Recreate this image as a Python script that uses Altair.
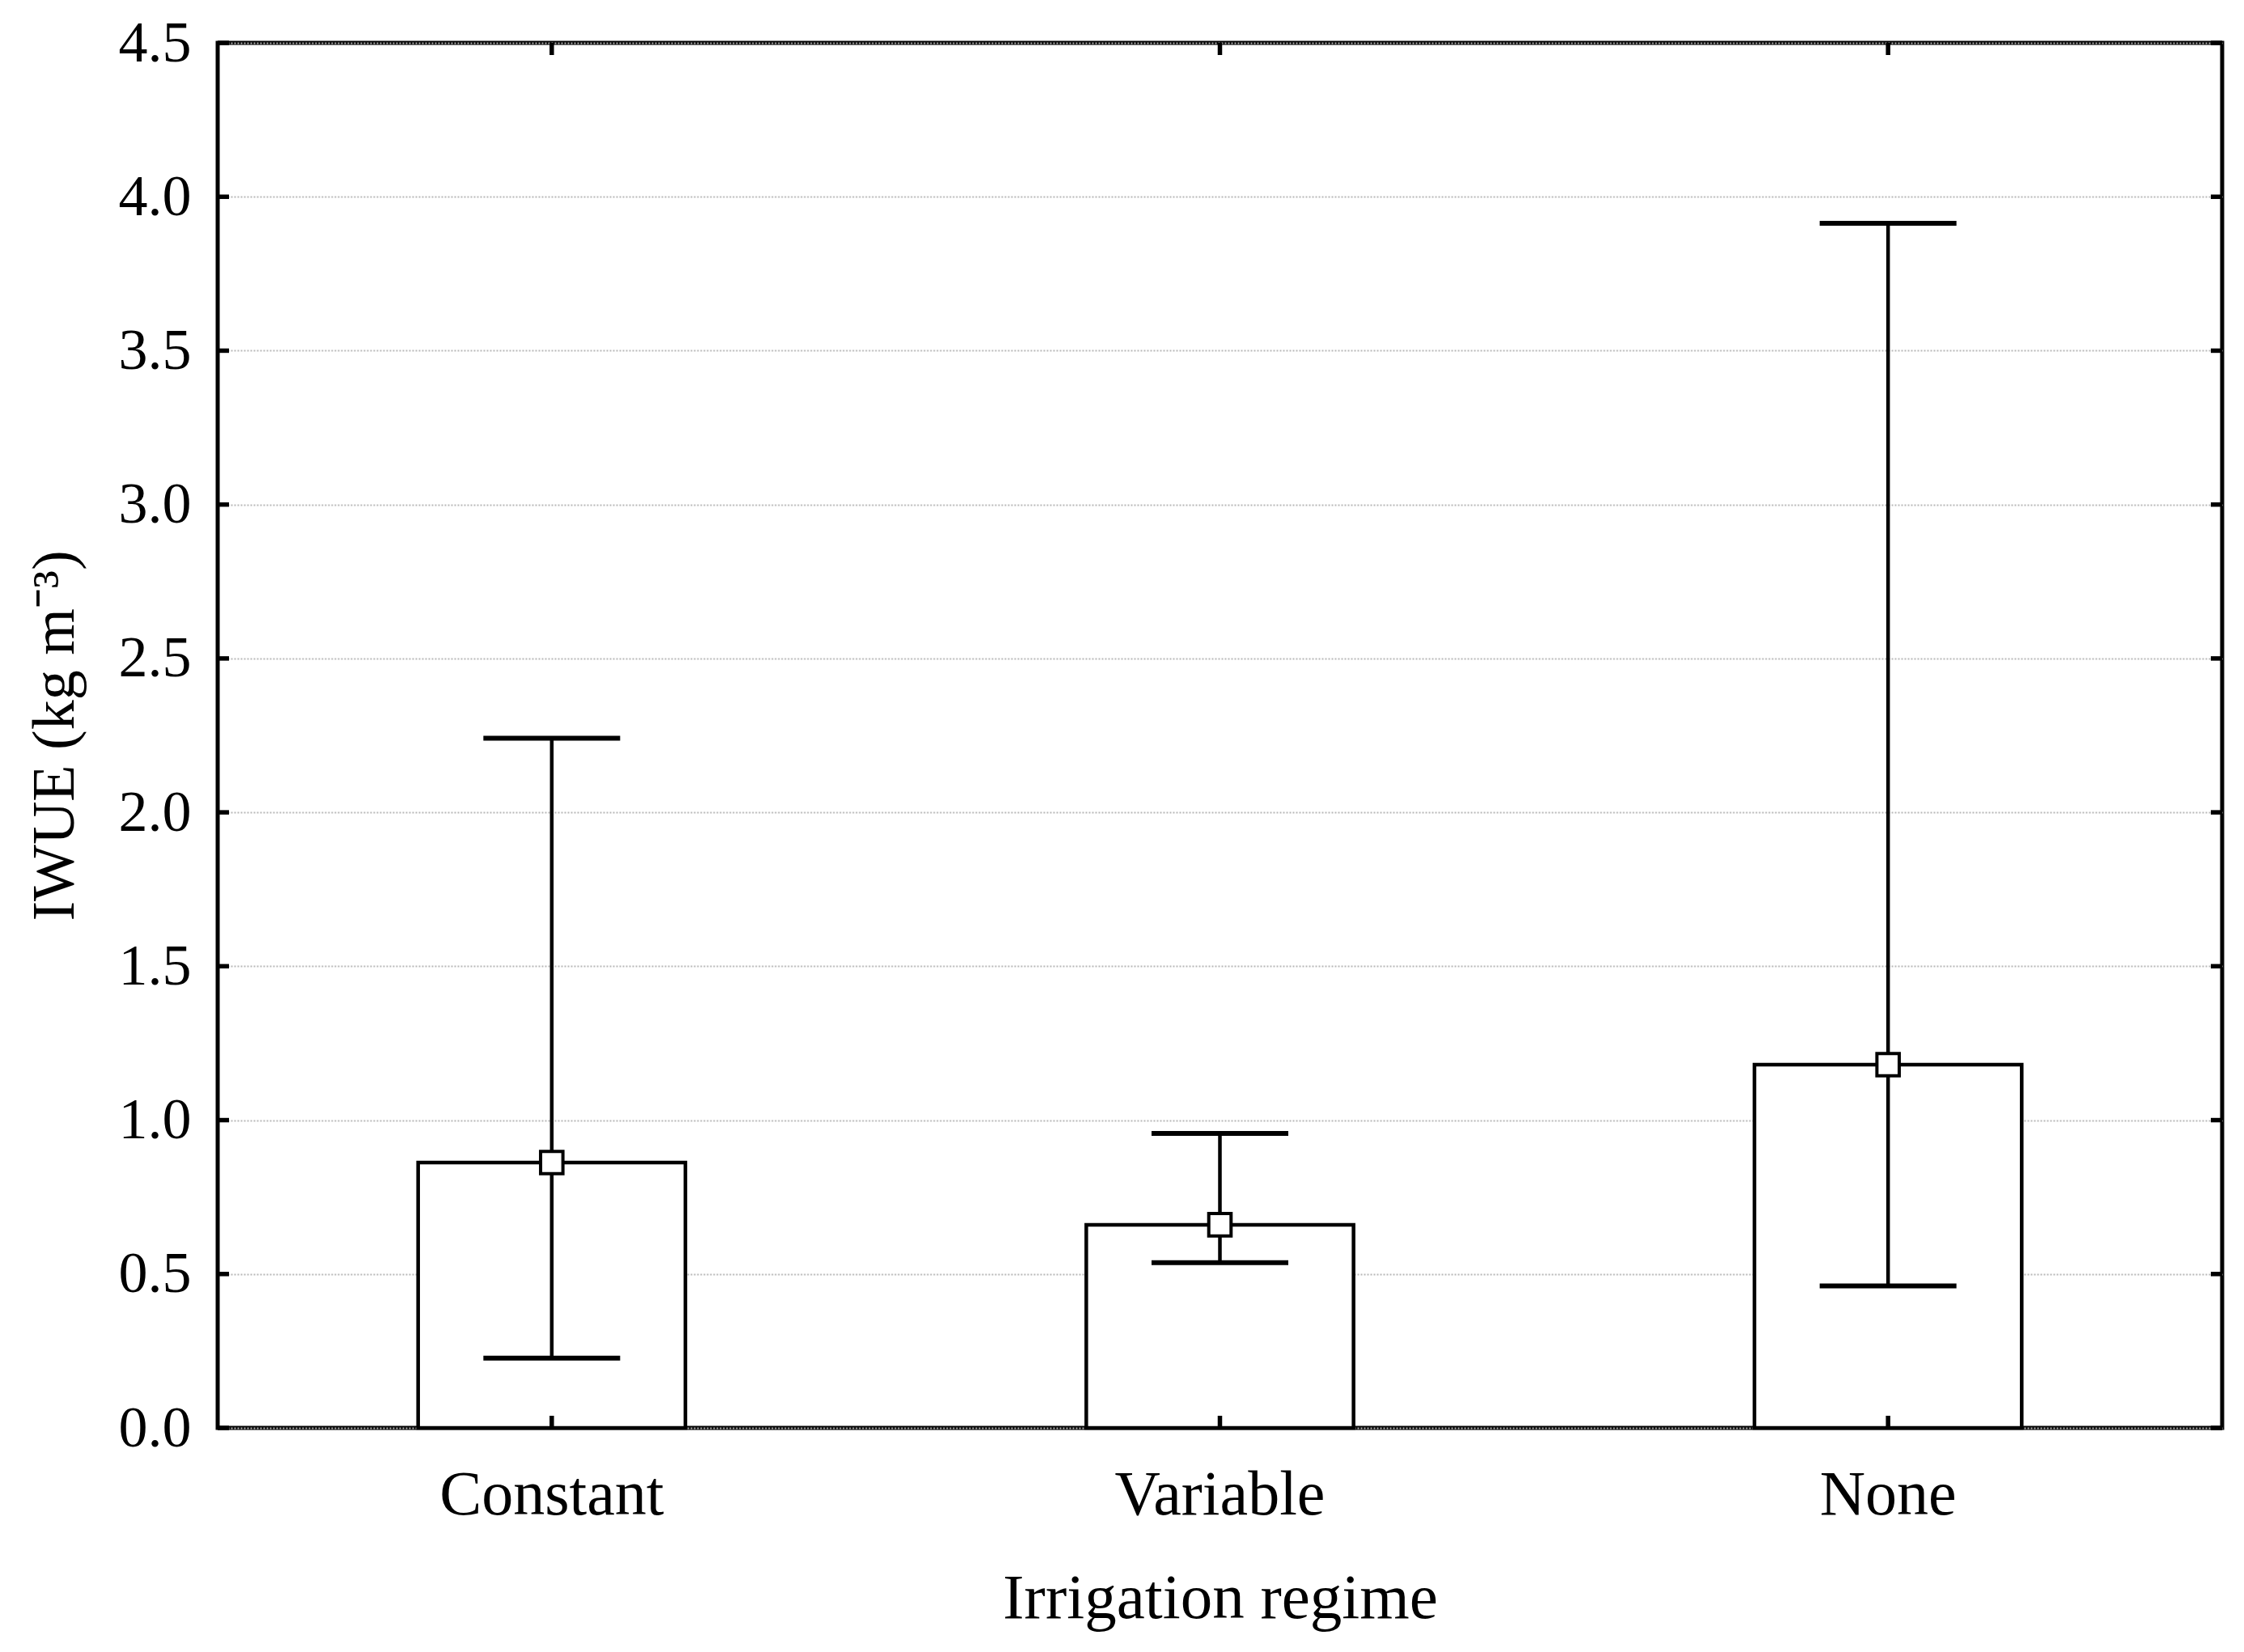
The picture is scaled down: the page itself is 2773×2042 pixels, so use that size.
import altair as alt
import pandas as pd

# ---- data ----
regimes = ["Constant", "Variable", "None"]
means = [0.862, 0.660, 1.180]
lows = [0.227, 0.537, 0.461]
highs = [2.241, 0.957, 3.914]
y_ticks = [0.0, 0.5, 1.0, 1.5, 2.0, 2.5, 3.0, 3.5, 4.0, 4.5]

W, H = 2477, 1712
FONT = "Liberation Serif"

df = pd.DataFrame({"regime": regimes, "mean": means, "low": lows, "high": highs})
tick_df = pd.DataFrame({"v": y_ticks})

yscale = alt.Scale(domain=[0, 4.5], nice=False, zero=True)
xscale = alt.Scale(domain=regimes, paddingInner=0.6, paddingOuter=0.3)

x_axis = alt.Axis(
    title="Irrigation regime", labelAngle=0, domain=False, ticks=False, tickSize=0,
    grid=False, labelFont=FONT, labelFontSize=78, labelColor="black", labelLimit=0,
    labelPadding=44, titleFont=FONT, titleFontSize=79, titleFontWeight="normal",
    titleColor="black", titlePadding=50,
)
y_axis = alt.Axis(
    title="IWUE (kg m⁻³)", values=y_ticks, format=".1f", domain=False, ticks=False,
    tickSize=0, grid=True, gridColor="#b8b8b8", gridDash=[2, 2], gridWidth=2,
    labelFont=FONT, labelFontSize=72, labelColor="black", labelPadding=33,
    labelLimit=0, titleFont=FONT, titleFontSize=74, titleFontWeight="normal",
    titleColor="black", titlePadding=40,
)


def X():
    return alt.X("regime:N", scale=xscale, axis=x_axis, sort=regimes)


def Y(field):
    return alt.Y(field, scale=yscale, axis=y_axis)


base = alt.Chart(df)

bars = base.mark_bar(fill="white", stroke="black", strokeWidth=4.5).encode(
    x=X(), y=Y("mean:Q")
)

err = base.mark_rule(color="black", strokeWidth=4.5).encode(
    x=X(), y=Y("low:Q"), y2="high:Q"
)

cap_hi = base.mark_tick(color="black", size=169, thickness=6, opacity=1).encode(
    x=X(), y=Y("high:Q")
)
cap_lo = base.mark_tick(color="black", size=169, thickness=6, opacity=1).encode(
    x=X(), y=Y("low:Q")
)

pts = base.mark_point(shape="square", filled=True, fill="white", stroke="black",
                      strokeWidth=4, size=760, opacity=1).encode(
    x=X(), y=Y("mean:Q")
)

# inward ticks on all four sides
tick_left = alt.Chart(tick_df).mark_rule(color="black", strokeWidth=5.5).encode(
    y=Y("v:Q"), x=alt.value(0), x2=alt.value(14)
)
tick_right = alt.Chart(tick_df).mark_rule(color="black", strokeWidth=5.5).encode(
    y=Y("v:Q"), x=alt.value(W - 14), x2=alt.value(W)
)
tick_top = base.mark_rule(color="black", strokeWidth=5.5).encode(
    x=X(), y=alt.value(0), y2=alt.value(15)
)
tick_bot = base.mark_rule(color="black", strokeWidth=5.5).encode(
    x=X(), y=alt.value(H - 15), y2=alt.value(H)
)

chart = alt.layer(
    bars, err, cap_hi, cap_lo, pts, tick_left, tick_right, tick_top, tick_bot
).properties(
    width=W, height=H,
    autosize=alt.AutoSizeParams(type="none"),
    padding={"left": 261, "top": 45, "right": 12, "bottom": 255},
    background="white",
).configure_view(
    stroke="black", strokeWidth=5
)

chart.save("out.html", embed_options={"renderer": "svg", "actions": False})
